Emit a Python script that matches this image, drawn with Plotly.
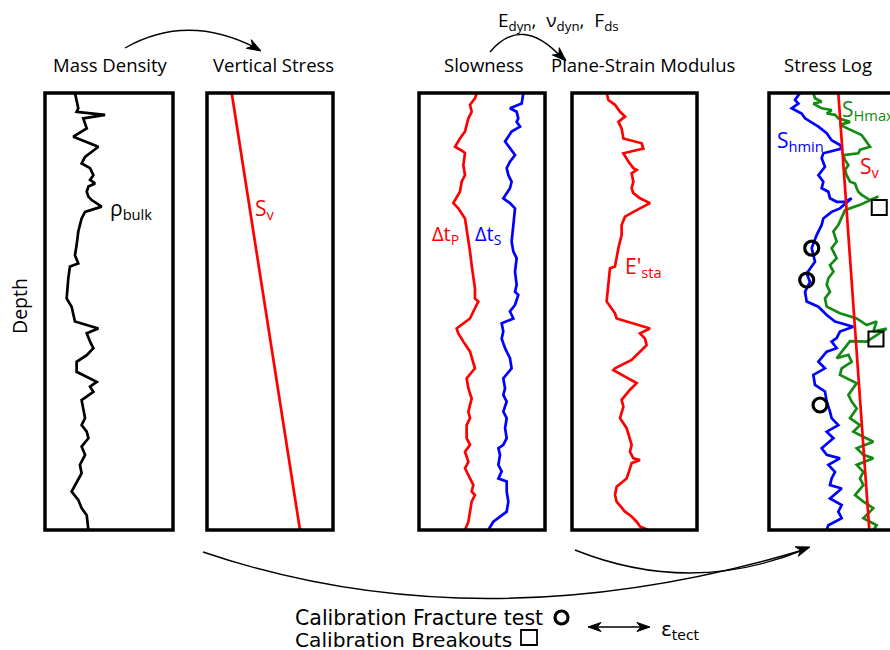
import plotly.graph_objects as go

W, H = 890, 650

# ---------------- data (values in % of panel width, depth in % of log interval) -------------
rho_depth = [0, 2.0, 3.5, 4.3, 5.0, 5.8, 8.1, 10.0, 12.3, 14.6, 16.1, 17.2, 18.8, 19.9, 20.7,
             21.4, 22.6, 23.7, 24.5, 26.0, 27.2, 28.7, 31.7, 34.8, 37.1, 39.0, 39.7, 42.4, 47.0,
             48.9, 52.3, 53.9, 55.0, 56.9, 58.4, 60.0, 61.5, 63.8, 66.1, 67.2, 68.4, 70.3, 72.2,
             74.4, 76.0, 77.5, 79.0, 80.9, 82.8, 85.1, 87.0, 91.2, 93.1, 95.0, 96.6, 100]
rho_bulk = [23.4, 24.7, 26.0, 24.7, 46.9, 29.9, 32.6, 22.1, 41.7, 31.3, 28.6, 35.2, 37.8, 35.2,
            39.1, 33.9, 32.6, 33.9, 36.5, 44.3, 31.3, 28.6, 26.0, 24.7, 23.4, 26.0, 19.5, 18.2,
            16.9, 20.8, 23.4, 41.7, 32.6, 35.2, 37.8, 32.6, 24.7, 24.7, 40.4, 35.2, 37.8, 28.6,
            29.9, 31.3, 28.6, 32.6, 33.9, 28.6, 31.3, 27.3, 28.6, 20.8, 26.0, 28.6, 32.6, 33.9]

sv_depth = [0, 100]
sv_panel2 = [19.6, 73.8]

dtp_depth = [0, 1.2, 2.7, 4.3, 5.8, 8.8, 10.4, 12.3, 13.4, 13.8, 16.5, 18.8, 20.3, 22.6, 25.2,
             26.4, 28.7, 31.0, 34.0, 36.3, 39.4, 41.6, 44.7, 47.0, 47.7, 50.0, 51.6, 53.9, 55.0,
             56.9, 59.2, 63.0, 65.3, 67.6, 69.9, 72.9, 74.4, 76.0, 79.0, 80.5, 82.1, 84.4, 85.9,
             88.2, 89.7, 91.2, 92.0, 93.5, 95.8, 98.1, 100]
dt_p = [45.8, 44.4, 40.5, 41.8, 39.2, 36.5, 32.5, 28.6, 35.2, 36.5, 35.2, 36.5, 33.9, 32.5, 27.2,
        31.2, 36.5, 37.8, 39.2, 40.5, 41.8, 43.1, 44.4, 44.4, 47.1, 43.1, 40.5, 29.9, 31.2, 35.2,
        40.5, 44.4, 37.8, 39.2, 41.8, 39.2, 40.5, 37.8, 37.8, 40.5, 36.5, 39.2, 36.5, 40.5, 43.1,
        41.8, 44.4, 41.8, 40.5, 39.2, 36.5]

dts_depth = [0, 2.4, 3.5, 4.3, 5.8, 6.6, 7.7, 8.8, 11.1, 12.7, 14.2, 15.7, 17.2, 18.8, 20.3,
             21.8, 24.1, 25.2, 26.4, 30.2, 34.0, 36.3, 37.8, 40.9, 43.9, 45.5, 46.2, 48.5, 50.0,
             51.6, 52.7, 54.6, 56.2, 58.4, 60.7, 63.0, 64.5, 65.3, 67.6, 69.1, 70.6, 72.9, 74.4,
             76.7, 79.0, 80.5, 81.3, 82.8, 85.1, 86.6, 88.2, 88.9, 91.2, 93.5, 95.8, 98.1, 100]
dt_s = [82.8, 81.5, 72.2, 77.5, 78.8, 77.5, 80.2, 73.5, 68.3, 72.2, 76.2, 72.2, 69.6, 70.9, 73.5,
        72.2, 66.9, 72.2, 76.2, 74.9, 73.5, 74.9, 77.5, 76.2, 77.5, 76.2, 78.8, 76.2, 72.2, 74.9,
        65.6, 66.9, 65.6, 68.3, 72.2, 73.5, 69.6, 66.9, 68.3, 66.9, 69.6, 66.9, 69.6, 68.3, 69.6,
        66.9, 63.0, 64.3, 63.0, 65.6, 63.0, 69.6, 69.6, 70.9, 69.6, 59.0, 55.0]

esta_depth = [0, 1.6, 2.7, 4.3, 5.4, 6.6, 8.1, 10.4, 11.5, 12.7, 13.8, 15.7, 17.2, 17.6, 18.4,
              20.3, 21.8, 22.9, 24.1, 25.2, 27.2, 28.3, 30.2, 32.5, 35.5, 37.8, 39.7, 40.1, 43.9,
              47.7, 50.4, 51.6, 53.9, 55.0, 56.2, 57.7, 59.2, 61.1, 63.0, 63.4, 64.9, 66.4, 67.9,
              70.2, 71.8, 74.4, 76.7, 79.0, 80.5, 82.1, 83.6, 84.0, 84.7, 85.9, 88.2, 90.1, 92.0,
              93.5, 95.8, 96.9, 98.1, 99.2, 100]
e_sta = [27.7, 29.1, 34.4, 38.4, 42.4, 37.1, 39.7, 41.1, 55.7, 57.1, 41.1, 45.1, 49.1, 51.7, 47.7,
         49.1, 47.7, 49.1, 54.4, 62.4, 49.1, 42.4, 39.7, 39.7, 37.1, 35.7, 34.4, 30.4, 29.1, 27.7,
         34.4, 35.7, 62.4, 54.4, 58.4, 59.7, 54.4, 47.7, 34.4, 33.1, 42.4, 51.7, 46.4, 39.7, 41.1,
         38.4, 43.7, 46.4, 47.7, 46.4, 49.1, 54.4, 47.7, 46.4, 43.7, 35.7, 34.4, 35.7, 42.4, 47.7,
         51.7, 54.4, 61.1]

shmin_depth = [0, 1.6, 2.4, 3.5, 4.7, 5.8, 7.7, 9.2, 10.8, 11.9, 12.7, 13.8, 14.9, 16.9, 18.8,
               20.3, 21.8, 22.6, 24.1, 24.9, 24.9, 24.1, 26.4, 27.2, 28.7, 30.2, 32.5, 35.5, 38.6,
               41.3, 43.2, 45.5, 47.7, 48.9, 50.8, 52.3, 53.5, 54.6, 56.1, 56.9, 58.4, 59.2, 61.5,
               63.0, 64.5, 66.8, 68.3, 70.6, 72.9, 74.4, 76.0, 77.5, 79.0, 81.3, 82.8, 83.6, 85.1,
               86.7, 88.2, 89.7, 90.5, 92.0, 92.8, 94.3, 95.8, 97.3, 98.9, 100]
s_hmin = [24.6, 20.6, 23.3, 18.0, 25.9, 28.6, 39.2, 45.8, 49.7, 56.3, 57.7, 43.1, 41.8, 44.4, 39.2,
          43.1, 41.8, 47.1, 48.4, 53.7, 60.3, 65.6, 56.3, 49.7, 43.1, 41.8, 37.8, 33.9, 36.5, 29.9,
          32.5, 28.6, 29.9, 39.2, 45.8, 52.4, 66.9, 56.3, 53.7, 49.7, 53.7, 45.8, 39.2, 44.4, 35.2,
          36.5, 44.4, 45.8, 48.4, 49.7, 55.0, 45.8, 51.1, 41.8, 45.8, 56.3, 47.1, 52.4, 49.7, 48.4,
          57.7, 51.1, 48.4, 57.7, 55.0, 57.7, 47.1, 45.8]

shmax_depth = [0, 1.2, 2.0, 2.4, 3.5, 3.9, 4.7, 5.0, 5.8, 6.6, 7.3, 8.5, 9.6, 12.3, 13.0, 13.8,
               14.2, 15.3, 16.5, 17.6, 18.8, 20.3, 20.7, 21.8, 22.6, 23.3, 24.5, 23.7, 25.6, 26.8,
               28.3, 30.2, 31.7, 34.0, 35.5, 37.8, 39.4, 40.9, 42.4, 43.9, 45.5, 47.0, 48.9, 50.4,
               51.6, 53.1, 52.3, 54.6, 53.9, 56.9, 56.8, 60.7, 59.9, 61.5, 63.0, 64.5, 66.4, 67.6,
               69.1, 70.6, 72.2, 74.4, 76.0, 77.5, 79.8, 81.3, 82.8, 83.6, 85.1, 86.7, 88.2, 89.7,
               92.0, 93.5, 95.0, 95.8, 97.3, 98.9, 100]
s_hmax = [35.2, 36.5, 41.8, 35.2, 41.8, 49.7, 45.8, 52.4, 55.0, 64.3, 56.3, 65.6, 73.5, 80.2, 72.2,
          70.9, 59.0, 60.3, 63.0, 60.3, 61.6, 64.3, 68.3, 69.6, 70.9, 73.5, 80.2, 86.8, 72.2, 60.3,
          57.7, 55.0, 51.1, 53.7, 49.7, 53.7, 48.4, 51.1, 47.1, 45.8, 48.4, 44.4, 45.8, 56.3, 69.6,
          77.5, 85.4, 82.8, 93.4, 77.5, 64.3, 53.7, 63.0, 65.6, 57.7, 56.3, 69.6, 66.9, 63.0, 65.6,
          69.6, 64.3, 72.2, 66.9, 82.8, 69.6, 74.9, 82.8, 69.6, 74.9, 72.2, 74.9, 68.3, 74.9, 82.8,
          80.2, 74.9, 85.4, 82.8]

sv_panel5 = [55.0, 79.6]

frac_depth = [35.5, 42.8, 71.4]
frac_value = [33.9, 29.9, 40.5]
bo_depth = [26.2, 56.3]
bo_value = [87.5, 84.9]

panel_titles = ["Mass Density", "Vertical Stress", "Slowness", "Plane-Strain Modulus", "Stress Log"]

# ---------------- layout helpers ----------------
FONT = "Open Sans"
WIDE_FONT = "DejaVu Sans"
PANELS = [(45, 173), (207, 333), (419, 545), (572, 697), (769, 895)]
TITLE_X = [110, 273, 484, 643, 828]
TOP, BOT = 93, 530


def px(x):
    return x / W


def py(y):
    return 1 - y / H


fig = go.Figure()

RED, BLUE, GREEN, BLACK = "#ff0000", "#0000ff", "#138a13", "#000000"


def add_line(i, xs, ys, color, width=2.7):
    sfx = "" if i == 1 else str(i)
    fig.add_trace(go.Scatter(x=xs, y=ys, mode="lines", xaxis=f"x{sfx}", yaxis=f"y{sfx}",
                             line=dict(color=color, width=width), hoverinfo="skip",
                             showlegend=False))


add_line(1, rho_bulk, rho_depth, BLACK)
add_line(2, sv_panel2, sv_depth, RED)
add_line(3, dt_p, dtp_depth, RED)
add_line(3, dt_s, dts_depth, BLUE)
add_line(4, e_sta, esta_depth, RED)
add_line(5, s_hmax, shmax_depth, GREEN)
add_line(5, s_hmin, shmin_depth, BLUE)
add_line(5, sv_panel5, sv_depth, RED)

fig.add_trace(go.Scatter(x=frac_value, y=frac_depth, mode="markers", xaxis="x5", yaxis="y5",
                         marker=dict(symbol="circle-open", size=14, color=BLACK,
                                     line=dict(width=3.2, color=BLACK)),
                         hoverinfo="skip", showlegend=False))
fig.add_trace(go.Scatter(x=bo_value, y=bo_depth, mode="markers", xaxis="x5", yaxis="y5",
                         marker=dict(symbol="square-open", size=15, color=BLACK,
                                     line=dict(width=2, color=BLACK)),
                         hoverinfo="skip", showlegend=False))

layout = dict(width=W, height=H, margin=dict(l=0, r=0, t=0, b=0),
              paper_bgcolor="white", plot_bgcolor="rgba(0,0,0,0)",
              font=dict(family=FONT, color="black", size=19), showlegend=False)

shapes = []
annotations = []
for i, (L, R) in enumerate(PANELS, start=1):
    Rv = min(R, W)
    sfx = "" if i == 1 else str(i)
    layout[f"xaxis{sfx}"] = dict(domain=[px(L), px(Rv)], range=[0, (Rv - L) / (R - L) * 100],
                                 visible=False, fixedrange=True, anchor=f"y{sfx}")
    layout[f"yaxis{sfx}"] = dict(domain=[py(BOT), py(TOP)], range=[100, 0], visible=False,
                                 fixedrange=True, anchor=f"x{sfx}")
    shapes.append(dict(type="rect", xref="paper", yref="paper", x0=px(L), x1=px(R),
                       y0=py(BOT), y1=py(TOP), line=dict(color=BLACK, width=3.5), layer="above"))
    annotations.append(dict(text=panel_titles[i - 1], x=px(TITLE_X[i - 1]),
                            y=py(65), xref="paper", yref="paper", showarrow=False,
                            font=dict(size=18.5, family=FONT), xanchor="center",
                            yanchor="middle"))


def ann(text, x, y, color=BLACK, size=20, xanchor="left", family=FONT, **kw):
    annotations.append(dict(text=text, x=px(x), y=py(y), xref="paper", yref="paper",
                            showarrow=False, font=dict(size=size, color=color, family=family),
                            xanchor=xanchor, yanchor="middle", **kw))


ann("ρ<sub>bulk</sub>", 108, 209, size=21)
ann("S<sub>v</sub>", 253, 209, RED, size=21)
ann("Δt<sub>P</sub>", 430, 234, RED, size=20)
ann("Δt<sub>S</sub>", 473, 234, BLUE, size=20)
ann("E'<sub>sta</sub>", 623, 267, RED, size=21)
ann("S<sub>hmin</sub>", 775, 141, BLUE, size=21)
ann("S<sub>Hmax</sub>", 840, 110, GREEN, size=21)
ann("S<sub>v</sub>", 858, 167, RED, size=21)
ann("Depth", 19, 306, size=19.5, xanchor="center", textangle=-90)
ann("E<sub>dyn</sub>,  ν<sub>dyn</sub>,  F<sub>ds</sub>", 558, 21, size=19, xanchor="center")
ann("Calibration Fracture test", 293, 618, size=20.5, family=WIDE_FONT)
ann("Calibration Breakouts", 293, 640, size=20.2, family=WIDE_FONT)
ann("ε<sub>tect</sub>", 659, 630, size=20, family=WIDE_FONT)


def pt(x, y):
    return f"{px(x):.5f},{py(y):.5f}"


def curve(p0, c, p1, width=1.4):
    shapes.append(dict(type="path", xref="paper", yref="paper",
                       path=f"M {pt(*p0)} Q {pt(*c)} {pt(*p1)}",
                       line=dict(color=BLACK, width=width)))


def head(tip, frm, length=14, width=10):
    dx, dy = tip[0] - frm[0], tip[1] - frm[1]
    n = (dx * dx + dy * dy) ** 0.5
    dx, dy = dx / n, dy / n
    bx, by = tip[0] - dx * length, tip[1] - dy * length
    nx, ny = -dy, dx
    a = (bx + nx * width / 2, by + ny * width / 2)
    b = (bx - nx * width / 2, by - ny * width / 2)
    m = (tip[0] - dx * length * 0.7, tip[1] - dy * length * 0.7)
    shapes.append(dict(type="path", xref="paper", yref="paper",
                       path=f"M {pt(*tip)} L {pt(*a)} L {pt(*m)} L {pt(*b)} Z",
                       fillcolor=BLACK, line=dict(color=BLACK, width=1)))


# top arrows
curve((125, 48), (188, 12), (258, 49))
head((261, 51), (228, 32))
curve((490, 52), (522, 14), (562, 58))
head((566, 61), (546, 42))
# bottom arrows
curve((203, 552), (480, 646), (803, 550))
head((810, 547), (760, 564))
curve((575, 550), (690, 596), (803, 550))

# double arrow for tectonic strain
shapes.append(dict(type="line", xref="paper", yref="paper", x0=px(598), x1=px(640),
                   y0=py(627), y1=py(627), line=dict(color=BLACK, width=1.6)))
head((588, 627), (600, 627), length=13, width=9)
head((650, 627), (638, 627), length=13, width=9)

# legend glyphs
shapes.append(dict(type="circle", xref="paper", yref="paper", x0=px(555), x1=px(568),
                   y0=py(624), y1=py(611), line=dict(color=BLACK, width=3.2)))
shapes.append(dict(type="rect", xref="paper", yref="paper", x0=px(521), x1=px(537),
                   y0=py(645), y1=py(630), line=dict(color=BLACK, width=1.8)))

layout["shapes"] = shapes
layout["annotations"] = annotations
fig.update_layout(**layout)

fig.write_html("out.html",
               config={"displayModeBar": False, "staticPlot": True},
               post_script="document.body.style.margin='0';"
                           "document.documentElement.style.overflow='hidden';")
